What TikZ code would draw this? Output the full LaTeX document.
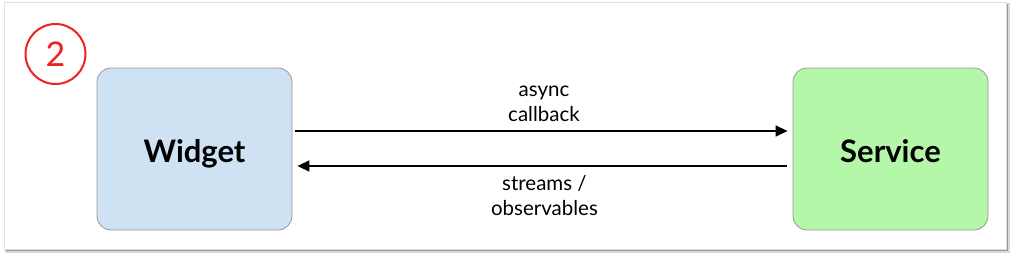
\documentclass[tikz,border=0pt]{standalone}
\usepackage{fontspec}
\setmainfont{Lato}
\usetikzlibrary{arrows.meta}
\definecolor{wblue}{HTML}{CFE2F3}
\definecolor{sgreen}{HTML}{B4F7A9}
\definecolor{boxline}{HTML}{999999}
\definecolor{circred}{HTML}{EE2222}
\tikzset{
  comp/.style={draw=boxline, line width=0.8pt, rounded corners=14pt, minimum width=195pt, minimum height=162pt, inner sep=0pt, text height=26pt, text depth=0pt, font=\fontsize{31}{36}\selectfont\bfseries},
  flow/.style={line width=1.5pt, -{Triangle[length=12pt,width=11pt]}},
  lbl/.style={align=center, font=\fontsize{20.5}{25}\selectfont, inner sep=0pt}
}
\begin{document}
\begin{tikzpicture}[x=1pt,y=-1pt]
\useasboundingbox (0,0) rectangle (1013,257);
\fill[black!15] (5,3) rectangle (1010,253);
\fill[black!40] (6,4) rectangle (1008,251);
\filldraw[fill=white, draw=black!12, line width=0.6pt] (4,2) rectangle (1006,249);
\node[draw=circred, line width=2pt, circle, minimum size=60pt, inner sep=0pt, text=circred, font=\fontsize{34}{40}\selectfont] (num) at (55.5,54) {2};
\node[comp, fill=wblue] (widget) at (194.5,149) {Widget};
\node[comp, fill=sgreen] (service) at (890.5,149) {Service};
\draw[flow] ([xshift=3pt,yshift=18pt]widget.east) -- coordinate[pos=0.505] (m1) ([xshift=-5pt,yshift=18pt]service.west);
\draw[flow] ([xshift=-6pt,yshift=-17pt]service.west) -- coordinate[pos=0.495] (m2) ([xshift=5pt,yshift=-17pt]widget.east);
\node[lbl, anchor=south] (l1) at ([yshift=9pt]m1) {async\\callback};
\node[lbl, anchor=north] (l2) at ([yshift=-9pt]m2) {streams /\\observables};
\end{tikzpicture}
\end{document}
